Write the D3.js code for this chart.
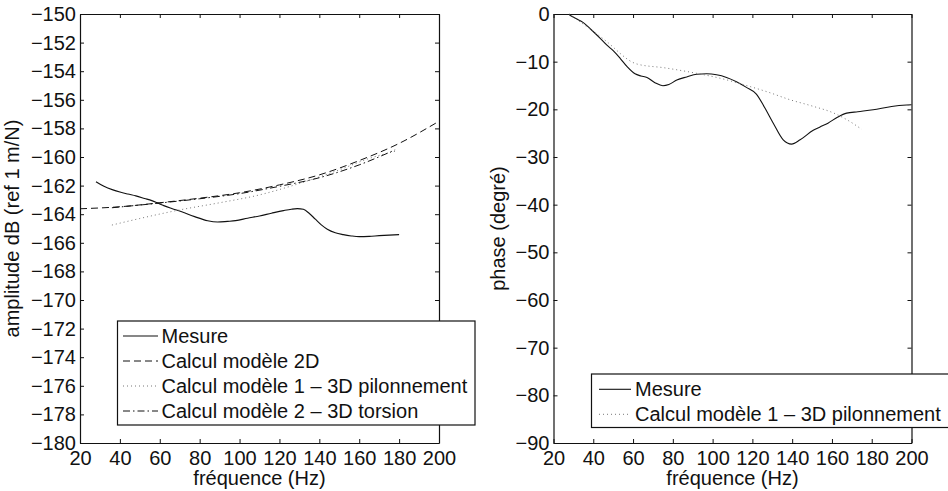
<!DOCTYPE html>
<html><head><meta charset="utf-8">
<script src="https://cdn.jsdelivr.net/npm/d3@7"></script>
<style>
body{margin:0;background:#fff;}
svg{display:block;font-family:"Liberation Sans",Arial,Helvetica,sans-serif;}
</style></head>
<body><svg id="chart" width="948" height="491"></svg>
<script>
// ---- data ----
const xTicks = [20,40,60,80,100,120,140,160,180,200];
const ampTicks = [-150,-152,-154,-156,-158,-160,-162,-164,-166,-168,-170,-172,-174,-176,-178,-180];
const phaseTicks = [0,-10,-20,-30,-40,-50,-60,-70,-80,-90];

const ampMesureF = [28,32,36.5,40,44,48,52.4,56,59,62,66,71,77.5,84,89,94,98,104,110,116,122,126,129,132,135,138,141,144,148,152,156,160,165,170,175,180];
const ampMesure  = [-161.73,-162.05,-162.3,-162.45,-162.59,-162.72,-162.9,-163.05,-163.22,-163.4,-163.6,-163.83,-164.17,-164.46,-164.55,-164.5,-164.45,-164.28,-164.12,-163.93,-163.75,-163.65,-163.61,-163.66,-163.95,-164.35,-164.75,-165.05,-165.3,-165.43,-165.52,-165.57,-165.55,-165.5,-165.46,-165.43];
const amp2DF = [20,40,60,80,100,120,140,160,180,200];
const amp2D  = [-163.62,-163.48,-163.2,-162.88,-162.5,-161.95,-161.25,-160.25,-159.05,-157.5];
const ampM1F = [36,50,70,90,110,130,150,165,178];
const ampM1  = [-164.76,-164.3,-163.7,-163.2,-162.65,-161.85,-160.9,-160.1,-159.6];
const ampM2F = [36,60,80,100,120,140,160,178];
const ampM2  = [-163.55,-163.22,-162.92,-162.56,-162.05,-161.45,-160.55,-159.5];

const phMesureF = [28,31,35,39,43.5,47,50,53.5,57,61,64,67,71,75,78,82,87,92,97,102,107,112,117,122,126,130.5,135.5,139.7,144,150.6,154,158,163,167.4,173,180.7,190,197.5,200];
const phMesure  = [-0.2,-0.9,-1.8,-3.3,-5.1,-6.6,-7.7,-9.3,-11.05,-12.55,-13.0,-13.3,-14.4,-15.05,-14.8,-13.85,-13.2,-12.65,-12.55,-12.75,-13.3,-14.2,-15.4,-16.8,-19.5,-22.9,-26.4,-27.3,-26.4,-24.4,-23.7,-22.9,-21.6,-20.8,-20.5,-20.1,-19.4,-19.1,-19.05];
const phM1F = [28,45,62,76,92,105,117,128,139,150,161,168,175];
const phM1  = [0,-5.2,-10.5,-11.3,-12.45,-13.6,-15.0,-16.4,-18.0,-19.3,-20.8,-22.3,-24.2];

const ampLegend = ["Mesure","Calcul modèle 2D","Calcul modèle 1 – 3D pilonnement","Calcul modèle 2 – 3D torsion"];
const phLegend = ["Mesure","Calcul modèle 1 – 3D pilonnement"];

// ---- styles ----
const styles = {
  solid:{stroke:"#111",dash:null,w:1.1},
  dashed:{stroke:"#111",dash:"7,4",w:1},
  dotted:{stroke:"#777",dash:"1,3",w:1},
  dashdot:{stroke:"#111",dash:"7,3,1.5,3",w:1}
};
const FS = 20;
const svg = d3.select("#chart");
svg.append("rect").attr("width",948).attr("height",491).attr("fill","#fff");

function panel(cfg){
  const g = svg.append("g");
  const x = d3.scaleLinear().domain([20,200]).range([cfg.x0,cfg.x1]);
  const y = d3.scaleLinear().domain(cfg.ydom).range([cfg.y1,cfg.y0]);
  const ax = (sel)=>{sel.select(".domain").attr("stroke","#111").attr("stroke-width",1.2);
    sel.selectAll(".tick line").attr("stroke","#111").attr("stroke-width",1);
    sel.selectAll("text").attr("font-size",FS).attr("fill","#111").attr("font-family","Liberation Sans, Arial, sans-serif");};
  g.append("g").attr("transform",`translate(0,${cfg.y1})`)
    .call(d3.axisBottom(x).tickValues(xTicks).tickSize(-4).tickSizeOuter(0).tickPadding(8).tickFormat(d3.format("d"))).call(ax);
  g.append("g").attr("transform",`translate(0,${cfg.y0})`)
    .call(d3.axisTop(x).tickValues(xTicks).tickSize(-4).tickSizeOuter(0).tickFormat("")).call(ax);
  g.append("g").attr("transform",`translate(${cfg.x0},0)`)
    .call(d3.axisLeft(y).tickValues(cfg.yticks).tickSize(-4).tickSizeOuter(0).tickPadding(4).tickFormat(d3.format("d"))).call(ax);
  g.append("g").attr("transform",`translate(${cfg.x1},0)`)
    .call(d3.axisRight(y).tickValues(cfg.yticks).tickSize(-4).tickSizeOuter(0).tickFormat("")).call(ax);
  const line = d3.line().x(d=>x(d[0])).y(d=>y(d[1])).curve(d3.curveMonotoneX);
  cfg.series.forEach(s=>{
    const st = styles[s.style];
    g.append("path").datum(d3.zip(s.f,s.v)).attr("d",line).attr("fill","none")
      .attr("stroke",st.stroke).attr("stroke-width",st.w).attr("stroke-dasharray",st.dash);
  });
  g.append("text").attr("x",(cfg.x0+cfg.x1)/2).attr("y",485).attr("text-anchor","middle")
    .attr("font-size",FS).attr("fill","#111").text("fréquence (Hz)");
  g.append("text").attr("transform",`translate(${cfg.ylx},${(cfg.y0+cfg.y1)/2}) rotate(-90)`)
    .attr("text-anchor","middle").attr("font-size",FS).attr("fill","#111").text(cfg.ylabel);
  // legend
  const L = cfg.legend;
  g.append("rect").attr("x",L.x).attr("y",L.y).attr("width",L.w).attr("height",L.h)
    .attr("fill","#fff").attr("stroke","#111").attr("stroke-width",1.2);
  L.items.forEach((t,i)=>{
    const st = styles[cfg.series[i].style];
    const cy = L.first + i*L.step;
    g.append("line").attr("x1",L.lx0).attr("x2",L.lx1).attr("y1",cy).attr("y2",cy)
      .attr("stroke",st.stroke).attr("stroke-width",st.w).attr("stroke-dasharray",st.dash);
    g.append("text").attr("x",L.tx).attr("y",cy).attr("dy","0.35em").attr("font-size",FS).attr("fill","#111").text(t);
  });
}

panel({x0:80,x1:439,y0:14,y1:443,ydom:[-180,-150],yticks:ampTicks,ylx:19,ylabel:"amplitude dB (ref 1 m/N)",
  series:[{f:ampMesureF,v:ampMesure,style:"solid"},{f:amp2DF,v:amp2D,style:"dashed"},{f:ampM1F,v:ampM1,style:"dotted"},{f:ampM2F,v:ampM2,style:"dashdot"}],
  legend:{x:117.5,y:321,w:357.5,h:104,first:336,step:25,lx0:123,lx1:158,tx:161.5,items:ampLegend}});

panel({x0:553.5,x1:911.5,y0:14,y1:443,ydom:[-90,0],yticks:phaseTicks,ylx:505,ylabel:"phase (degré)",
  series:[{f:phMesureF,v:phMesure,style:"solid"},{f:phM1F,v:phM1,style:"dotted"}],
  legend:{x:591.5,y:374,w:370,h:53.5,first:389.3,step:25,lx0:599,lx1:631,tx:635,items:phLegend}});
</script></body></html>
